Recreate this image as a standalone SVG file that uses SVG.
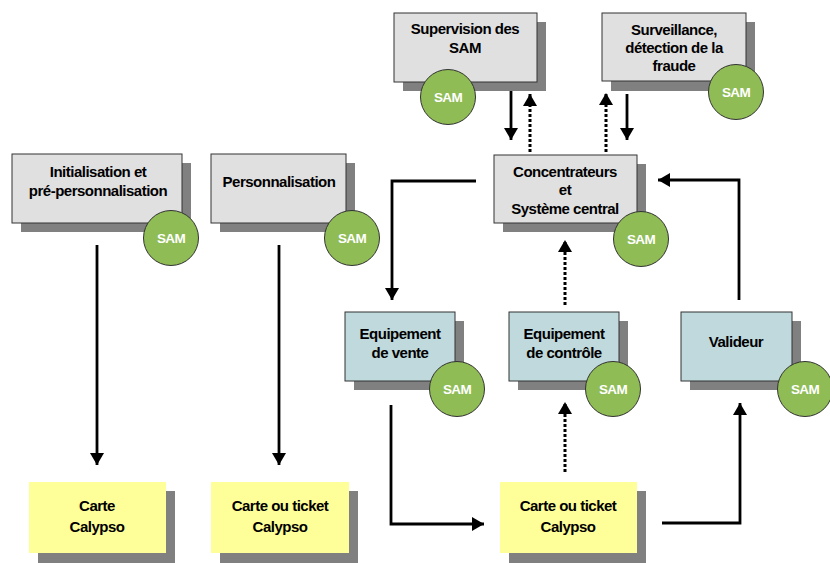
<svg xmlns="http://www.w3.org/2000/svg" width="830" height="563" viewBox="0 0 830 563">
<defs>
<marker id="ah" viewBox="0 0 12 14" refX="12" refY="7" markerWidth="12" markerHeight="14" markerUnits="userSpaceOnUse" orient="auto">
<path d="M0,0 L12,7 L0,14 Z" fill="#000"/>
</marker>
</defs>
<style>
.sh{fill:#808080}
.g{fill:#e0e0e0;stroke:#333;stroke-width:1}
.b{fill:#bfd9dc;stroke:#333;stroke-width:1}
.y{fill:#ffff99}
.sam{fill:#8fbc55;stroke:#333;stroke-width:1}
.t{font-family:"Liberation Sans",Arial,sans-serif;font-weight:bold;font-size:15px;fill:#000;text-anchor:middle;letter-spacing:-0.5px}
.st{font-family:"Liberation Sans",Arial,sans-serif;font-weight:bold;font-size:13.5px;fill:#fff;text-anchor:middle;letter-spacing:-0.6px}
.c{fill:none;stroke:#000;stroke-width:2.8}
.d{fill:none;stroke:#000;stroke-width:3;stroke-dasharray:3 2}
</style>
<g id="connectors">
<path class="c" d="M511,87 V140" marker-end="url(#ah)"/>
<path class="d" d="M530,152 V94" marker-end="url(#ah)"/>
<path class="d" d="M606,152 V93" marker-end="url(#ah)"/>
<path class="c" d="M627,94 V140" marker-end="url(#ah)"/>
<path class="c" d="M476,181 H392 V300" marker-end="url(#ah)"/>
<path class="c" d="M739,300 V180 H658" marker-end="url(#ah)"/>
<path class="d" d="M565,305 V240" marker-end="url(#ah)"/>
<path class="c" d="M97,245 V465" marker-end="url(#ah)"/>
<path class="c" d="M279,245 V465" marker-end="url(#ah)"/>
<path class="c" d="M391,405 V524 H484" marker-end="url(#ah)"/>
<path class="d" d="M565,472 V402" marker-end="url(#ah)"/>
<path class="c" d="M662,523 H740 V403" marker-end="url(#ah)"/>
</g>
<g id="supervision">
<rect class="sh" x="403" y="22" width="143" height="69"/>
<rect class="g" x="394" y="13" width="143" height="69"/>
<text class="t" x="465" y="34">Supervision des</text>
<text class="t" x="465" y="53">SAM</text>
<circle class="sam" cx="448" cy="97" r="27.5"/>
<text class="st" x="448" y="101.5">SAM</text>
</g>
<g id="surveillance">
<rect class="sh" x="611" y="22" width="144" height="69"/>
<rect class="g" x="602" y="13" width="144" height="68"/>
<text class="t" x="674" y="35">Surveillance,</text>
<text class="t" x="674" y="53">détection de la</text>
<text class="t" x="674" y="71">fraude</text>
<circle class="sam" cx="736" cy="92" r="27.5"/>
<text class="st" x="736" y="96.5">SAM</text>
</g>
<g id="concentrateurs">
<rect class="sh" x="503" y="164" width="143" height="68"/>
<rect class="g" x="494" y="155" width="143" height="68"/>
<text class="t" x="565" y="177">Concentrateurs</text>
<text class="t" x="565" y="195">et</text>
<text class="t" x="565" y="214">Système central</text>
<circle class="sam" cx="641" cy="239" r="27.5"/>
<text class="st" x="641" y="243.5">SAM</text>
</g>
<g id="initialisation">
<rect class="sh" x="21" y="163" width="170" height="69"/>
<rect class="g" x="12" y="154" width="170" height="69"/>
<text class="t" x="98" y="177">Initialisation et</text>
<text class="t" x="98" y="196">pré-personnalisation</text>
<circle class="sam" cx="171" cy="238" r="27.5"/>
<text class="st" x="171" y="242.5">SAM</text>
</g>
<g id="personnalisation">
<rect class="sh" x="220" y="163" width="135" height="69"/>
<rect class="g" x="211" y="154" width="135" height="69"/>
<text class="t" x="279" y="187">Personnalisation</text>
<circle class="sam" cx="352" cy="238" r="27.5"/>
<text class="st" x="352" y="242.5">SAM</text>
</g>
<g id="vente">
<rect class="sh" x="354" y="321" width="110" height="69"/>
<rect class="b" x="345" y="312" width="110" height="69"/>
<text class="t" x="400" y="339">Equipement</text>
<text class="t" x="400" y="358">de vente</text>
<circle class="sam" cx="457" cy="389" r="27.5"/>
<text class="st" x="457" y="393.5">SAM</text>
</g>
<g id="controle">
<rect class="sh" x="518" y="321" width="110" height="69"/>
<rect class="b" x="509" y="312" width="110" height="69"/>
<text class="t" x="564" y="339">Equipement</text>
<text class="t" x="564" y="358">de contrôle</text>
<circle class="sam" cx="613" cy="389" r="27.5"/>
<text class="st" x="613" y="393.5">SAM</text>
</g>
<g id="valideur">
<rect class="sh" x="690" y="321" width="111" height="69"/>
<rect class="b" x="681" y="312" width="111" height="69"/>
<text class="t" x="736" y="347">Valideur</text>
<circle class="sam" cx="805" cy="389" r="27.5"/>
<text class="st" x="805" y="393.5">SAM</text>
</g>
<g id="carte1">
<rect class="sh" x="38" y="491" width="137" height="72"/>
<rect class="y" x="29" y="482" width="137" height="71"/>
<text class="t" x="97" y="511">Carte</text>
<text class="t" x="97" y="532">Calypso</text>
</g>
<g id="carte2">
<rect class="sh" x="220" y="491" width="138" height="72"/>
<rect class="y" x="211" y="482" width="138" height="71"/>
<text class="t" x="280" y="511">Carte ou ticket</text>
<text class="t" x="280" y="532">Calypso</text>
</g>
<g id="carte3">
<rect class="sh" x="509" y="491" width="137" height="72"/>
<rect class="y" x="500" y="482" width="137" height="71"/>
<text class="t" x="568" y="511">Carte ou ticket</text>
<text class="t" x="568" y="532">Calypso</text>
</g>
</svg>
